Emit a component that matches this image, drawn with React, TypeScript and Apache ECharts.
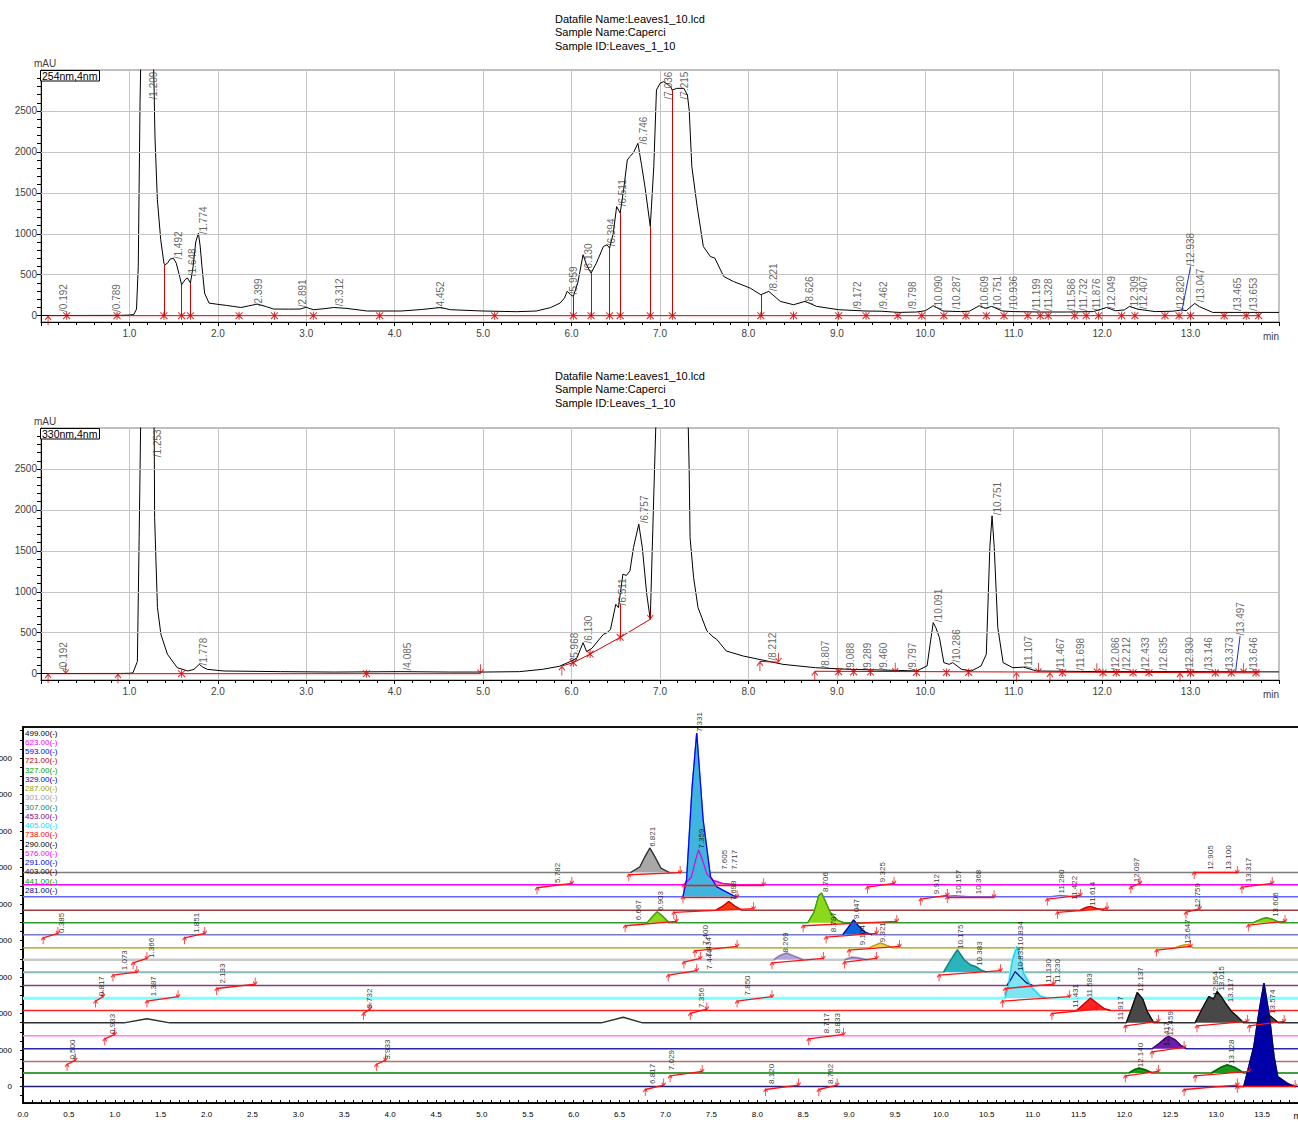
import React, { useEffect, useRef } from "react";
import * as echarts from "echarts";

const FONT = "'Liberation Sans', Arial, sans-serif";
const RED = "#d40000";

const sampleInfo = ["Datafile Name:Leaves1_10.lcd", "Sample Name:Caperci", "Sample ID:Leaves_1_10"];
const mainYLabels = [0, 500, 1000, 1500, 2000, 2500];
const bottomYLabels = [0, 1000, 2000, 3000, 4000, 5000, 6000, 7000, 8000, 9000];

// ---------------- 254 nm ----------------
const trace254 = [
  [0, 2], [0.5, 3], [0.9, 4], [1.0, 8], [1.05, 15], [1.08, 80], [1.1, 600], [1.12, 2600], [1.13, 3200], [1.2, 3600],
  [1.27, 3200], [1.28, 2720], [1.285, 2390], [1.29, 2146], [1.316, 1415], [1.354, 927], [1.39, 643], [1.4, 622],
  [1.43, 640], [1.46, 690], [1.497, 703], [1.53, 640], [1.57, 470], [1.59, 378], [1.63, 440], [1.655, 461], [1.69, 400],
  [1.72, 600], [1.75, 900], [1.78, 1008], [1.8, 850], [1.82, 602], [1.85, 276], [1.9, 154], [1.99, 140], [2.1, 125],
  [2.18, 113], [2.26, 100], [2.35, 120], [2.446, 142], [2.55, 110], [2.63, 81], [2.8, 80], [2.93, 81], [3.0, 102],
  [3.08, 73], [3.2, 85], [3.31, 100], [3.45, 90], [3.69, 57], [4.07, 57], [4.3, 75], [4.52, 100], [4.63, 73], [5.0, 57],
  [5.38, 49], [5.6, 57], [5.76, 98], [5.87, 154], [5.92, 216], [5.95, 297], [5.99, 256], [6.02, 236], [6.07, 400],
  [6.13, 744], [6.17, 620], [6.22, 520], [6.28, 640], [6.36, 845], [6.4, 866], [6.43, 825], [6.47, 1000], [6.51, 1333],
  [6.55, 1252], [6.59, 1550], [6.63, 1902], [6.66, 1943], [6.7, 1990], [6.75, 2105], [6.79, 1850], [6.83, 1575],
  [6.89, 1089], [6.93, 1821], [6.96, 2756], [7.0, 2837], [7.04, 2857], [7.08, 2830], [7.12, 2796], [7.14, 2756],
  [7.19, 2776], [7.27, 2776], [7.31, 2695], [7.33, 2512], [7.36, 1821], [7.42, 1333], [7.49, 845], [7.57, 722],
  [7.62, 703], [7.72, 479], [7.83, 418], [8.02, 337], [8.14, 256], [8.23, 297], [8.36, 175], [8.51, 134], [8.64, 175],
  [8.77, 114], [9.02, 73], [9.33, 57], [9.5, 55], [9.7, 40], [9.9, 45], [10.0, 60], [10.09, 122], [10.2, 57], [10.4, 50],
  [10.5, 55], [10.61, 122], [10.68, 90], [10.75, 114], [10.87, 57], [11.0, 50], [11.3, 45], [11.6, 45], [11.9, 50],
  [12.05, 100], [12.15, 60], [12.25, 70], [12.31, 114], [12.4, 80], [12.6, 50], [12.8, 55], [12.9, 70], [12.95, 60],
  [13.047, 150], [13.1, 110], [13.25, 40], [13.6, 40], [14.0, 40],
];
const labels254 = [
  [0.192, 40], [0.789, 40], [1.209, 2634], [1.492, 683], [1.648, 476], [1.774, 988], [2.399, 110], [2.891, 98],
  [3.312, 110], [4.452, 73], [5.959, 256], [6.13, 537], [6.394, 841], [6.511, 1329], [6.746, 2085], [7.036, 2634],
  [7.215, 2634], [8.221, 293], [8.626, 134], [9.172, 73], [9.462, 73], [9.798, 73], [10.09, 73], [10.287, 73],
  [10.609, 73], [10.751, 73], [10.936, 73], [11.199, 50], [11.328, 50], [11.586, 50], [11.732, 50], [11.876, 50],
  [12.049, 73], [12.309, 73], [12.407, 73], [12.82, 73], [12.938, 598], [13.047, 159], [13.465, 50], [13.653, 50],
];
const drops254 = [
  [1.39, 0, 622], [1.59, 0, 378], [1.69, 0, 400], [6.02, 0, 236], [6.22, 0, 520], [6.43, 0, 825], [6.55, 0, 1252],
  [6.89, 0, 1089], [7.14, 0, 2756], [8.14, 0, 256],
];
const marks254 = [
  [0.08, 0, 1], [0.29, 0, 0], [0.86, 0, 0], [1.39, 0, 0], [1.59, 0, 0], [1.69, 0, 0], [2.24, 0, 0], [2.64, 0, 0],
  [3.08, 0, 0], [3.83, 0, 0], [5.13, 0, 0], [6.02, 0, 0], [6.22, 0, 0], [6.43, 0, 0], [6.55, 0, 0], [6.89, 0, 0],
  [7.14, 0, 0], [8.14, 0, 0], [8.51, 0, 0], [9.02, 0, 0], [9.33, 0, 0], [9.69, 0, 0], [9.96, 0, 0], [10.21, 0, 0],
  [10.46, 0, 0], [10.69, 0, 0], [10.89, 0, 0], [11.16, 0, 0], [11.3, 0, 0], [11.39, 0, 0], [11.69, 0, 0], [11.82, 0, 0],
  [11.96, 0, 0], [12.22, 0, 0], [12.37, 0, 0], [12.71, 0, 0], [12.87, 0, 0], [13.0, 0, 0], [13.38, 0, 0], [13.63, 0, 0],
  [13.77, 0, 0],
];
const base254 = [[[0.08, 0], [13.78, 0]]];
const leader254 = [[12.9, 50], [13.0, 598]];

// ---------------- 330 nm ----------------
const trace330 = [
  [0, 2], [0.9, 3], [1.0, 5], [1.04, 10], [1.09, 150], [1.11, 1660], [1.13, 3300], [1.2, 3800], [1.27, 3300],
  [1.28, 2950], [1.285, 1907], [1.3, 1378], [1.317, 807], [1.356, 480], [1.43, 237], [1.54, 74], [1.66, 33], [1.73, 53],
  [1.79, 115], [1.83, 80], [1.88, 53], [2.07, 33], [2.71, 25], [3.31, 20], [4.07, 25], [4.63, 20], [5.0, 20], [5.41, 25],
  [5.67, 53], [5.86, 90], [5.99, 150], [6.06, 190], [6.13, 379], [6.17, 270], [6.23, 310], [6.36, 481], [6.4, 500],
  [6.44, 540], [6.5, 848], [6.53, 807], [6.58, 1215], [6.62, 1200], [6.66, 1255], [6.7, 1540], [6.76, 1826], [6.8, 1540],
  [6.85, 970], [6.89, 665], [6.93, 2193], [6.96, 3300], [7.1, 4000], [7.28, 3300], [7.32, 2990], [7.33, 2480],
  [7.34, 1663], [7.38, 1174], [7.43, 807], [7.53, 522], [7.6, 449], [7.64, 420], [7.75, 277], [7.94, 216], [8.21, 155],
  [8.39, 114], [8.76, 73], [9.14, 53], [9.7, 40], [9.9, 33], [10.02, 94], [10.06, 400], [10.09, 624], [10.12, 560],
  [10.16, 440], [10.21, 135], [10.27, 114], [10.31, 135], [10.41, 53], [10.52, 33], [10.63, 94], [10.69, 237],
  [10.73, 1540], [10.755, 1928], [10.78, 1540], [10.82, 562], [10.88, 135], [10.99, 73], [11.11, 80], [11.26, 33],
  [12.0, 25], [13.0, 25], [14.0, 22],
];
const labels330 = [
  [0.192, 40], [1.253, 2637], [1.778, 94], [4.085, 33], [5.968, 155], [6.13, 363], [6.511, 828], [6.757, 1830],
  [8.212, 155], [8.807, 57], [9.088, 33], [9.289, 33], [9.46, 33], [9.797, 33], [10.091, 623], [10.286, 130],
  [10.751, 1928], [11.107, 57], [11.467, 33], [11.698, 33], [12.086, 33], [12.212, 33], [12.433, 33], [12.635, 33],
  [12.93, 33], [13.146, 33], [13.373, 33], [13.497, 460], [13.646, 33],
];
const drops330 = [[6.55, 444, 848]];
const marks330 = [
  [0.08, 0, 1], [0.28, 0, 2], [0.87, 0, 1], [1.59, 0, 0], [3.68, 0, 0], [4.97, 0, 2], [5.89, 94, 1], [6.02, 135, 0],
  [6.21, 240, 0], [6.55, 444, 0], [6.89, 665, 2], [8.13, 150, 1], [8.34, 140, 2], [8.75, 30, 1], [9.02, 25, 0],
  [9.19, 22, 0], [9.38, 20, 0], [9.66, 18, 2], [9.9, 15, 0], [10.24, 15, 0], [10.49, 15, 0], [11.03, 15, 1],
  [11.28, 15, 2], [11.41, 12, 1], [11.55, 12, 0], [11.94, 12, 2], [12.01, 12, 0], [12.16, 12, 0], [12.35, 12, 0],
  [12.53, 12, 0], [12.88, 10, 1], [13.0, 10, 0], [13.28, 10, 0], [13.46, 10, 0], [13.6, 10, 2], [13.74, 10, 0],
];
const base330 = [
  [[0.08, 0], [4.97, 0]],
  [[5.89, 94], [6.02, 135], [6.21, 240], [6.55, 444], [6.89, 665]],
  [[8.13, 150], [8.34, 140]],
  [[8.75, 30], [13.78, 10]],
];
const leader330 = [[13.51, 33], [13.56, 460]];

// ---------------- multi-wavelength panel ----------------
const bNames = [
  "499.00(-)", "623.00(-)", "593.00(-)", "721.00(-)", "327.00(-)", "329.00(-)", "287.00(-)", "301.00(-)", "307.00(-)",
  "453.00(-)", "405.00(-)", "738.00(-)", "290.00(-)", "576.00(-)", "291.00(-)", "403.00(-)", "441.00(-)", "281.00(-)",
];
const bOffsets = [5863, 5526, 5197, 4833, 4485, 4156, 3800, 3471, 3134, 2767, 2422, 2082, 1745, 1389, 1033, 685, 375, 0];
const bLegendColors = [
  "#000000", "#ff00ff", "#0000ff", "#c00000", "#00a000", "#0000c0", "#a0a000", "#a0a0a0", "#008080",
  "#800080", "#00e0ff", "#ff0000", "#000000", "#ff00ff", "#0000ff", "#400000", "#00a000", "#000080",
];
const bLineColors = [
  "#7c7c7c", "#ff00ff", "#6464ff", "#a03c3c", "#28a028", "#7878c8", "#a0a000", "#c8c8c8", "#88b8b8",
  "#804080", "#80ffff", "#ff2020", "#303030", "#ff80ff", "#2828a0", "#b07070", "#40a040", "#202080",
];
const bWidths = [1.5, 1.5, 1.5, 1.5, 1.5, 1.5, 1.2, 2.5, 2, 1.5, 3, 1.5, 1.5, 1.5, 1.5, 1.5, 2, 1.5];
const bFill = [
  "#a8a8a8", "#ff7fb0", "#3fb4dc", "#ff3a10", "#8cd81c", "#0868e0", "#f0d060", "#b4a4dc", "#2cb4bc",
  "#1c1cc8", "#7ee4f4", "#ff2424", "#484848", "#ff80ff", "#6a1fa8", "#b07070", "#1a9a1a", "#0000a8",
];
const bEdge = [
  "#303030", "#e000e0", "#0000ff", "#d00000", "#40a000", "#0000b0", "#c0a000", "#8070b0", "#008080",
  "#000090", "#20c8e8", "#d00000", "#101010", "#ff00ff", "#400080", "#b07070", "#006000", "#000070",
];
const bPeaks = [
  [[[6.62, 0], [6.72, 150], [6.78, 450], [6.83, 669], [6.88, 450], [6.95, 120], [7.04, 0]]],
  [[[7.2, 0], [7.28, 200], [7.33, 700], [7.36, 960], [7.4, 700], [7.45, 300], [7.52, 120], [7.62, 40], [7.75, 0]]],
  [[[7.19, 0], [7.23, 470], [7.29, 3000], [7.34, 4485], [7.41, 2100], [7.49, 550], [7.56, 270], [7.74, 30], [7.78, 0]]],
  [
    [[7.55, 0], [7.62, 100], [7.69, 236], [7.76, 100], [7.83, 0]],
    [[11.52, 0], [11.58, 70], [11.63, 100], [11.7, 40], [11.78, 0]],
  ],
  [
    [[6.8, 0], [6.87, 200], [6.91, 300], [6.96, 200], [7.04, 0]],
    [[8.55, 0], [8.62, 300], [8.67, 750], [8.7, 813], [8.74, 600], [8.8, 250], [8.88, 60], [8.95, 0]],
    [[13.4, 0], [13.5, 110], [13.55, 137], [13.62, 90], [13.7, 0]],
  ],
  [[[8.93, 0], [8.99, 200], [9.05, 411], [9.1, 250], [9.17, 80], [9.25, 0]]],
  [
    [[9.22, 0], [9.3, 90], [9.34, 128], [9.4, 80], [9.48, 0]],
    [[12.55, 0], [12.62, 60], [12.68, 90], [12.75, 0]],
  ],
  [
    [[8.18, 0], [8.25, 120], [8.32, 183], [8.4, 100], [8.5, 0]],
    [[8.95, 0], [9.03, 70], [9.1, 50], [9.2, 0]],
  ],
  [[[10.03, 0], [10.1, 300], [10.18, 611], [10.25, 350], [10.32, 200], [10.38, 153], [10.44, 50], [10.5, 0]]],
  [[[10.72, 0], [10.77, 200], [10.81, 384], [10.86, 250], [10.93, 80], [11.0, 0]]],
  [[[10.7, 0], [10.74, 400], [10.78, 1040], [10.83, 1414], [10.9, 685], [10.98, 318], [11.08, 55], [11.15, 0]]],
  [[[11.48, 0], [11.56, 180], [11.63, 340], [11.7, 200], [11.78, 50], [11.85, 0]]],
  [
    [[12.02, 0], [12.08, 400], [12.14, 830], [12.2, 650], [12.25, 300], [12.32, 0]],
    [[12.77, 0], [12.85, 400], [12.92, 720], [12.97, 650], [13.01, 858], [13.06, 700], [13.1, 540], [13.17, 300], [13.23, 170], [13.3, 0]],
    [[13.45, 0], [13.57, 220], [13.68, 0]],
  ],
  [],
  [[[12.3, 0], [12.38, 150], [12.45, 300], [12.48, 338], [12.55, 250], [12.62, 80], [12.68, 0]]],
  [],
  [
    [[12.05, 0], [12.12, 100], [12.16, 129], [12.22, 90], [12.3, 0]],
    [[12.95, 0], [13.05, 150], [13.12, 219], [13.2, 150], [13.3, 0]],
  ],
  [[[13.3, 0], [13.41, 1100], [13.47, 2100], [13.52, 2833], [13.58, 1920], [13.63, 820], [13.67, 275], [13.78, 80], [13.86, 0]]],
];
const bBumps = [
  [], [], [[[10.0, 0], [10.15, 30], [10.3, 0]], [[11.2, 0], [11.3, 40], [11.45, 0]]], [], [], [], [], [], [], [], [], [],
  [[[1.1, 0], [1.35, 110], [1.6, 0]], [[6.3, 0], [6.54, 156], [6.75, 0]]], [], [], [], [], [],
];
const bSegs = [
  [5, 0.22, -80, 0.38, 40], [5, 1.76, -80, 1.98, 40], [8, 0.98, -80, 1.24, 0], [7, 1.2, -80, 1.35, 40],
  [10, 0.79, -80, 0.87, 40], [10, 1.35, -80, 1.69, 40], [9, 2.11, -80, 2.53, 40], [11, 3.71, -80, 3.78, 40],
  [11, 7.27, -80, 7.45, 40], [13, 0.89, -80, 1.0, 40], [13, 8.56, -80, 8.94, 40], [15, 0.48, -80, 0.57, 40],
  [15, 3.85, -80, 3.95, 40], [0, 6.6, -60, 7.16, 0], [0, 12.76, 0, 13.23, 0], [1, 5.6, -80, 5.98, 40],
  [1, 7.2, 0, 8.07, 0], [1, 9.2, -60, 9.49, 40], [1, 12.07, -60, 12.17, 40], [1, 13.28, -60, 13.61, 40],
  [2, 7.19, 0, 7.78, 0], [2, 9.78, -60, 10.07, 40], [2, 10.07, 0, 10.58, 0], [2, 11.16, -60, 11.52, 40],
  [3, 7.09, -60, 7.96, 40], [3, 11.27, -60, 11.81, 40], [3, 12.67, -60, 12.82, 40], [4, 6.56, -80, 7.12, 40],
  [4, 8.5, -80, 9.52, 40], [4, 13.35, -60, 13.75, 40], [5, 8.75, -60, 9.3, 40], [6, 7.32, -80, 7.78, 40],
  [6, 9.0, -60, 9.55, 40], [6, 12.35, -60, 12.72, 40], [7, 7.2, -60, 7.38, 40], [7, 8.16, -80, 8.72, 40],
  [7, 8.95, -60, 9.3, 40], [8, 7.03, -80, 7.34, 40], [8, 9.98, -80, 10.65, 40], [9, 10.7, -80, 11.23, 40],
  [10, 7.78, -80, 8.16, 40], [10, 10.67, -80, 11.4, 40], [11, 11.21, -80, 11.7, 40], [12, 12.01, -80, 12.37, 40],
  [12, 12.79, -80, 13.34, 40], [12, 13.36, -80, 13.74, 40], [14, 12.3, -80, 12.65, 40], [16, 7.05, -80, 7.4, 40],
  [16, 12.01, -80, 12.37, 40], [16, 12.77, -80, 13.36, 40], [17, 6.78, -80, 6.98, 40], [17, 8.09, -80, 8.45, 40],
  [17, 8.67, -80, 8.87, 40], [17, 12.65, -80, 13.23, 40], [17, 13.23, 0, 13.86, 0],
];
const bLabels = [
  [5, 0.385, 40], [5, 1.851, 40], [8, 1.073, 40], [7, 1.366, 40], [10, 0.817, 40], [10, 1.387, 40], [9, 2.133, 40],
  [11, 3.732, 40], [11, 7.356, 60], [13, 0.933, 40], [13, 8.717, 60], [13, 8.833, 60], [15, 0.5, 40], [15, 3.933, 40],
  [0, 6.821, 690], [0, 7.605, 60], [0, 7.717, 60], [0, 12.905, 60], [0, 13.1, 60],
  [1, 5.782, 40], [1, 7.359, 980], [1, 9.325, 60], [1, 12.097, 60], [1, 13.317, 60],
  [2, 7.331, 4500], [2, 9.912, 60], [2, 10.157, 60], [2, 10.368, 60], [2, 11.28, 80],
  [3, 7.698, 250], [3, 11.422, 270], [3, 11.614, 110], [3, 12.759, 60],
  [4, 6.667, 60], [4, 6.903, 310], [4, 8.706, 830], [4, 13.606, 150],
  [5, 8.787, 60], [5, 9.047, 420], [6, 7.4, 60], [6, 9.104, 60], [6, 9.321, 140], [6, 12.647, 100],
  [7, 7.434, 60], [7, 8.269, 190], [8, 7.444, 60], [8, 10.175, 620], [8, 10.383, 160],
  [9, 10.835, 390], [9, 11.13, 60], [9, 11.23, 60], [10, 7.85, 60], [10, 10.834, 1420],
  [11, 11.431, 60], [11, 11.583, 350], [12, 11.917, 60], [12, 12.137, 840], [12, 12.954, 730], [12, 13.015, 870],
  [12, 13.117, 550], [12, 13.574, 230], [14, 12.417, 60], [14, 12.459, 350],
  [16, 7.029, 60], [16, 12.14, 140], [16, 13.128, 230], [17, 6.817, 60], [17, 8.12, 60], [17, 8.762, 60],
];

// ---------------- symbols ----------------
const SYM_X = "path://M0,0L10,10M10,0L0,10M5,-1L5,11";
const SYM_UP = "path://M5,0L5,12M1,5L5,0L9,5";
const SYM_DOWN = "path://M5,12L5,0M1,7L5,12L9,7";

function range(a: number, b: number, s: number) {
  const out: number[] = [];
  for (let v = a; v <= b + 1e-9; v += s) out.push(Math.round(v * 1000) / 1000);
  return out;
}

function mainAxes(k: number) {
  const x = {
    type: "value", gridIndex: k, min: 0, max: 14, interval: 1,
    axisLine: { show: true, onZero: false, lineStyle: { color: "#000", width: 1 } },
    axisTick: { show: true, length: 4, lineStyle: { color: "#000" } },
    minorTick: { show: true, splitNumber: 5, length: 3, lineStyle: { color: "#000" } },
    axisLabel: {
      formatter: (v: number) => v.toFixed(1), showMinLabel: false, showMaxLabel: false,
      fontSize: 10, color: "#404040", margin: 6, fontFamily: FONT,
    },
    splitLine: { show: true, lineStyle: { color: "#c4c4c4", width: 1 } },
    name: "min", nameLocation: "end", nameGap: 0,
    nameTextStyle: { align: "right", verticalAlign: "top", padding: [9, 0, 0, 0], fontSize: 10, color: "#404040", fontFamily: FONT },
  };
  const y = {
    type: "value", gridIndex: k, min: -77, max: 3000,
    axisLine: { show: true, onZero: false, lineStyle: { color: "#000", width: 1 } },
    axisTick: { show: true, length: 4, customValues: range(0, 2900, 100), lineStyle: { color: "#000" } },
    axisLabel: {
      customValues: mainYLabels, formatter: (v: number) => String(v),
      fontSize: 10, color: "#404040", margin: 4, fontFamily: FONT,
    },
    splitLine: { show: false },
    name: "mAU", nameLocation: "end", nameGap: 2,
    nameTextStyle: { align: "center", padding: [0, 0, 0, 8], fontSize: 10, color: "#404040", fontFamily: FONT },
  };
  return { x, y };
}

function mainSeries(k: number, name: string, trace: number[][], labels: number[][], drops: number[][],
  marks: number[][], baseSegs: number[][][], leader: number[][]) {
  const common = { xAxisIndex: k, yAxisIndex: k, silent: true, animation: false };
  const s: any[] = [];
  s.push({
    ...common, type: "line", name: "grid" + k, data: [[0, -1000]], symbol: "none", lineStyle: { width: 0 }, z: 1,
    markLine: {
      silent: true, symbol: ["none", "none"], label: { show: false }, animation: false,
      lineStyle: { type: "solid", color: "#c4c4c4", width: 1 },
      data: mainYLabels.filter((v) => v > 0).map((v) => ({ yAxis: v })),
    },
  });
  s.push({ ...common, type: "line", name, data: trace, symbol: "none", lineStyle: { color: "#000", width: 1 }, z: 3 });
  baseSegs.forEach((seg, j) => {
    s.push({
      ...common, type: "line", name: "baseline" + k + "_" + j, data: seg, symbol: "none",
      lineStyle: { color: RED, width: 1 }, z: 4,
      markLine: j === 0 ? {
        silent: true, symbol: ["none", "none"], label: { show: false }, animation: false,
        lineStyle: { type: "solid", width: 1 },
        data: [
          ...drops.map((d) => [{ coord: [d[0], d[1]], lineStyle: { color: RED, type: "solid", width: 1 } }, { coord: [d[0], d[2]] }]),
          [{ coord: leader[0], lineStyle: { color: "#2030c0", type: "solid", width: 1 } }, { coord: leader[1] }],
        ],
      } : undefined,
    });
  });
  const kinds = [SYM_X, SYM_UP, SYM_DOWN];
  [0, 1, 2].forEach((kind) => {
    s.push({
      ...common, type: "scatter", name: "marks" + k + "_" + kind, z: 6,
      data: marks.filter((m) => m[2] === kind).map((m) => [m[0], m[1]]),
      symbol: kinds[kind], symbolSize: kind === 0 ? [7, 8] : [6, 9],
      symbolOffset: kind === 1 ? [0, 5] : kind === 2 ? [0, -5] : [0, 0],
      itemStyle: { color: "rgba(0,0,0,0)", borderColor: RED, borderWidth: 1.1 },
    });
  });
  s.push({
    ...common, type: "scatter", name: "labels" + k, z: 5, symbolSize: 1,
    itemStyle: { color: "rgba(0,0,0,0)" },
    data: labels.map((l) => ({ value: [l[0], l[1]], label: { formatter: "/" + l[0].toFixed(3) } })),
    label: {
      show: true, position: [6, 0], rotate: 90, align: "left", verticalAlign: "middle",
      fontSize: 10, color: "#3c3c3c", fontFamily: FONT,
    },
  });
  return s;
}

function bottomSeries() {
  const common = { xAxisIndex: 2, yAxisIndex: 2, silent: true, animation: false };
  const s: any[] = [];
  bNames.forEach((name, i) => {
    const off = bOffsets[i];
    const pts: number[][] = [[0, 0], [14, 0]];
    bPeaks[i].forEach((p) => p.forEach((q) => pts.push(q)));
    bBumps[i].forEach((p) => p.forEach((q) => pts.push(q)));
    pts.sort((a, b) => a[0] - b[0]);
    s.push({
      ...common, type: "line", name, data: pts.map((p) => [p[0], off + p[1]]), symbol: "none",
      lineStyle: { color: bLineColors[i], width: bWidths[i] }, z: 3,
    });
    bPeaks[i].forEach((p) => {
      s.push({
        ...common, type: "line", name, data: p.map((q) => [q[0], off + q[1]]), symbol: "none",
        lineStyle: { color: bEdge[i], width: 1.2 },
        areaStyle: { color: bFill[i], opacity: 1, origin: off }, z: 4,
      });
    });
  });
  s.push({
    ...common, type: "line", name: "segments", data: [[0, -5000]], symbol: "none", lineStyle: { width: 0 }, z: 5,
    markLine: {
      silent: true, symbol: ["none", "none"], label: { show: false }, animation: false,
      lineStyle: { type: "solid", color: "#ff1010", width: 1.3 },
      data: bSegs.map((g) => [{ coord: [g[1], bOffsets[g[0]] + g[2]] }, { coord: [g[3], bOffsets[g[0]] + g[4]] }]),
    },
  });
  s.push({
    ...common, type: "scatter", name: "segStart", z: 6, symbol: SYM_UP, symbolSize: [4, 7], symbolOffset: [0, 3],
    itemStyle: { color: "rgba(0,0,0,0)", borderColor: "#ff1010", borderWidth: 1.2 },
    data: bSegs.map((g) => [g[1], bOffsets[g[0]] + g[2]]),
  });
  s.push({
    ...common, type: "scatter", name: "segEnd", z: 6, symbol: SYM_DOWN, symbolSize: [4, 7], symbolOffset: [0, -3],
    itemStyle: { color: "rgba(0,0,0,0)", borderColor: "#ff1010", borderWidth: 1.2 },
    data: bSegs.map((g) => [g[3], bOffsets[g[0]] + g[4]]),
  });
  s.push({
    ...common, type: "scatter", name: "bLabels", z: 7, symbolSize: 1, itemStyle: { color: "rgba(0,0,0,0)" },
    data: bLabels.map((l) => ({ value: [l[1], bOffsets[l[0]] + l[2]], label: { formatter: l[1].toFixed(3) } })),
    label: {
      show: true, position: [4, 0], rotate: 90, align: "left", verticalAlign: "middle",
      fontSize: 8, color: "#000", fontFamily: FONT,
    },
  });
  return s;
}

function buildOption() {
  const a0 = mainAxes(0);
  const a1 = mainAxes(1);
  const xb = {
    type: "value", gridIndex: 2, min: 0, max: 14, interval: 0.5,
    axisLine: { show: true, onZero: false, lineStyle: { color: "#000", width: 1 } },
    axisTick: { show: true, inside: true, length: 3, lineStyle: { color: "#000" } },
    minorTick: { show: true, splitNumber: 5, length: 3, lineStyle: { color: "#000" } },
    axisLabel: { formatter: (v: number) => v.toFixed(1), showMaxLabel: false, fontSize: 8, color: "#000", margin: 7, fontFamily: FONT },
    splitLine: { show: false },
    name: "min", nameLocation: "end", nameGap: 0,
    nameTextStyle: { align: "right", verticalAlign: "top", padding: [8, 0, 0, 0], fontSize: 9, color: "#000", fontFamily: FONT },
  };
  const yb = {
    type: "value", gridIndex: 2, min: -450, max: 9850,
    axisLine: { show: true, onZero: false, lineStyle: { color: "#000", width: 1 } },
    axisTick: { show: true, length: 3, customValues: range(-250, 9750, 250), lineStyle: { color: "#000" } },
    axisLabel: {
      customValues: bottomYLabels, formatter: (v: number) => String(v),
      fontSize: 8, color: "#000", margin: 11, fontFamily: FONT,
    },
    splitLine: { show: false },
  };
  const titleStyle = { fontSize: 11, lineHeight: 13.5, fontWeight: "normal", color: "#000", fontFamily: FONT };
  const legendTexts = bNames.map((n, i) => ({
    type: "text", x: 25, y: 733 + 9.25 * i, z: 30,
    style: { text: n, fill: bLegendColors[i], fontSize: 8, fontFamily: FONT, verticalAlign: "middle" },
  }));
  const gridBase = { show: true, backgroundColor: "transparent", containLabel: false, outerBoundsMode: "none" };
  return {
    animation: false,
    backgroundColor: "#ffffff",
    title: [
      { text: sampleInfo.join("\n"), left: 555, top: 12, padding: 0, textStyle: titleStyle },
      { text: sampleInfo.join("\n"), left: 555, top: 369, padding: 0, textStyle: titleStyle },
    ],
    grid: [
      { ...gridBase, left: 41, top: 70, width: 1238, height: 252, borderColor: "#808080", borderWidth: 1 },
      { ...gridBase, left: 41, top: 428, width: 1238, height: 252, borderColor: "#808080", borderWidth: 1 },
      { ...gridBase, left: 23, top: 727, width: 1285, height: 376, borderColor: "#111", borderWidth: 2 },
    ],
    xAxis: [a0.x, a1.x, xb],
    yAxis: [a0.y, a1.y, yb],
    graphic: [
      { type: "rect", shape: { x: 40.5, y: 70.5, width: 59, height: 10.5 }, style: { fill: "#fff", stroke: "#000", lineWidth: 1 }, z: 20 },
      { type: "text", x: 42, y: 76, style: { text: "254nm,4nm", fontSize: 10.5, fontFamily: FONT, fill: "#000", verticalAlign: "middle" }, z: 21 },
      { type: "rect", shape: { x: 40.5, y: 428.5, width: 59, height: 10.5 }, style: { fill: "#fff", stroke: "#000", lineWidth: 1 }, z: 20 },
      { type: "text", x: 42, y: 434, style: { text: "330nm,4nm", fontSize: 10.5, fontFamily: FONT, fill: "#000", verticalAlign: "middle" }, z: 21 },
      ...legendTexts,
    ],
    series: [
      ...mainSeries(0, "254nm,4nm", trace254, labels254, drops254, marks254, base254, leader254),
      ...mainSeries(1, "330nm,4nm", trace330, labels330, drops330, marks330, base330, leader330),
      ...bottomSeries(),
    ],
  };
}

export default function App() {
  const ref = useRef<HTMLDivElement>(null);
  useEffect(() => {
    if (!ref.current) return;
    const chart = echarts.init(ref.current, null, { renderer: "svg" });
    chart.setOption(buildOption() as any);
    return () => chart.dispose();
  }, []);
  return (
    <div
      ref={ref}
      style={{ position: "absolute", left: 0, top: 0, width: 1298, height: 1122, background: "#fff" }}
    />
  );
}
